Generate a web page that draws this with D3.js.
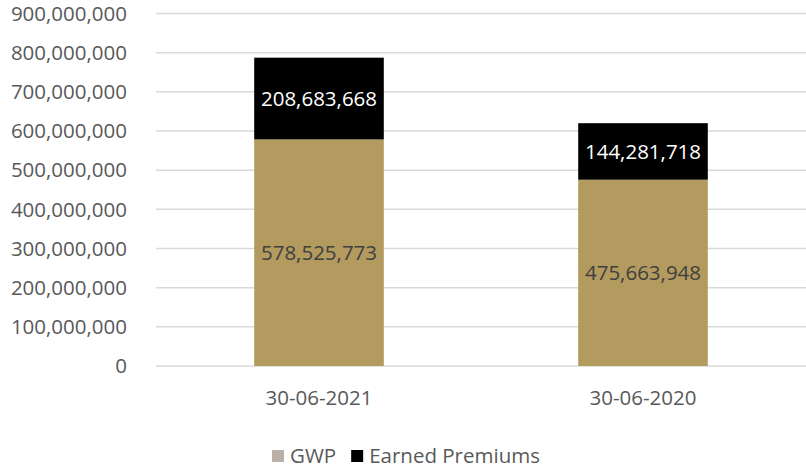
<!DOCTYPE html>
<html>
<head>
<meta charset="utf-8">
<script src="https://cdn.jsdelivr.net/npm/d3@7"></script>
<style>
  body { margin: 0; background: #fff; }
  text { font-family: "Open Sans", sans-serif; }
</style>
</head>
<body>
<svg id="chart" width="806" height="468"></svg>
<script>
const categories = ["30-06-2021", "30-06-2020"];
const gwp = [578525773, 475663948];
const earned = [208683668, 144281718];
const seriesNames = ["GWP", "Earned Premiums"];
const yTicks = [0, 100000000, 200000000, 300000000, 400000000, 500000000, 600000000, 700000000, 800000000, 900000000];

const svg = d3.select("#chart");
const fontSize = 20.5;
const axisColor = "#595959";

const x = d3.scaleBand().domain(categories).range([157, 805]).paddingInner(0.6).paddingOuter(0.3);
const y = d3.scaleLinear().domain([0, 900000000]).range([366, 13.5]);
const fmt = d3.format(",");

// gridlines
svg.append("g")
    .selectAll("line")
    .data(yTicks)
    .join("line")
    .attr("x1", 156)
    .attr("x2", 806)
    .attr("y1", d => y(d))
    .attr("y2", d => y(d))
    .attr("stroke", "#d9d9d9")
    .attr("stroke-width", 1.5);

// y axis labels
svg.append("g")
    .selectAll("text")
    .data(yTicks)
    .join("text")
    .attr("x", 127)
    .attr("y", d => y(d))
    .attr("dy", "0.35em")
    .attr("text-anchor", "end")
    .attr("fill", axisColor)
    .attr("font-size", fontSize)
    .text(d => fmt(d));

// stacked data
const rows = categories.map((c, i) => ({ cat: c, gwp: gwp[i], earned: earned[i] }));
const stack = d3.stack().keys(["gwp", "earned"])(rows);
const colors = { gwp: "#b39a5e", earned: "#000000" };
const labelColors = { gwp: "#404040", earned: "#ffffff" };

const layers = svg.append("g")
    .selectAll("g")
    .data(stack)
    .join("g")
    .attr("fill", d => colors[d.key]);

layers.selectAll("rect")
    .data(d => d)
    .join("rect")
    .attr("x", d => x(d.data.cat))
    .attr("width", x.bandwidth())
    .attr("y", d => y(d[1]))
    .attr("height", d => y(d[0]) - y(d[1]));

// data labels
stack.forEach(layer => {
    svg.append("g")
        .selectAll("text")
        .data(layer)
        .join("text")
        .attr("x", d => x(d.data.cat) + x.bandwidth() / 2)
        .attr("y", d => (y(d[0]) + y(d[1])) / 2)
        .attr("dy", "0.35em")
        .attr("text-anchor", "middle")
        .attr("fill", labelColors[layer.key])
        .attr("font-size", fontSize)
        .text(d => fmt(d.data[layer.key]));
});

// x axis labels
svg.append("g")
    .selectAll("text")
    .data(categories)
    .join("text")
    .attr("x", d => x(d) + x.bandwidth() / 2)
    .attr("y", 398)
    .attr("dy", "0.35em")
    .attr("text-anchor", "middle")
    .attr("fill", axisColor)
    .attr("font-size", fontSize)
    .text(d => d);

// legend
const legendSwatch = ["#bcb0a6", "#000000"];
const legend = svg.append("g");
let lx = 272;
seriesNames.forEach((name, i) => {
    legend.append("rect")
        .attr("x", lx)
        .attr("y", 450)
        .attr("width", 12)
        .attr("height", 12)
        .attr("fill", legendSwatch[i]);
    const t = legend.append("text")
        .attr("x", lx + 18)
        .attr("y", 456)
        .attr("dy", "0.35em")
        .attr("fill", axisColor)
        .attr("font-size", fontSize)
        .text(name);
    lx += 18 + t.node().getComputedTextLength() + 15;
});
</script>
</body>
</html>
